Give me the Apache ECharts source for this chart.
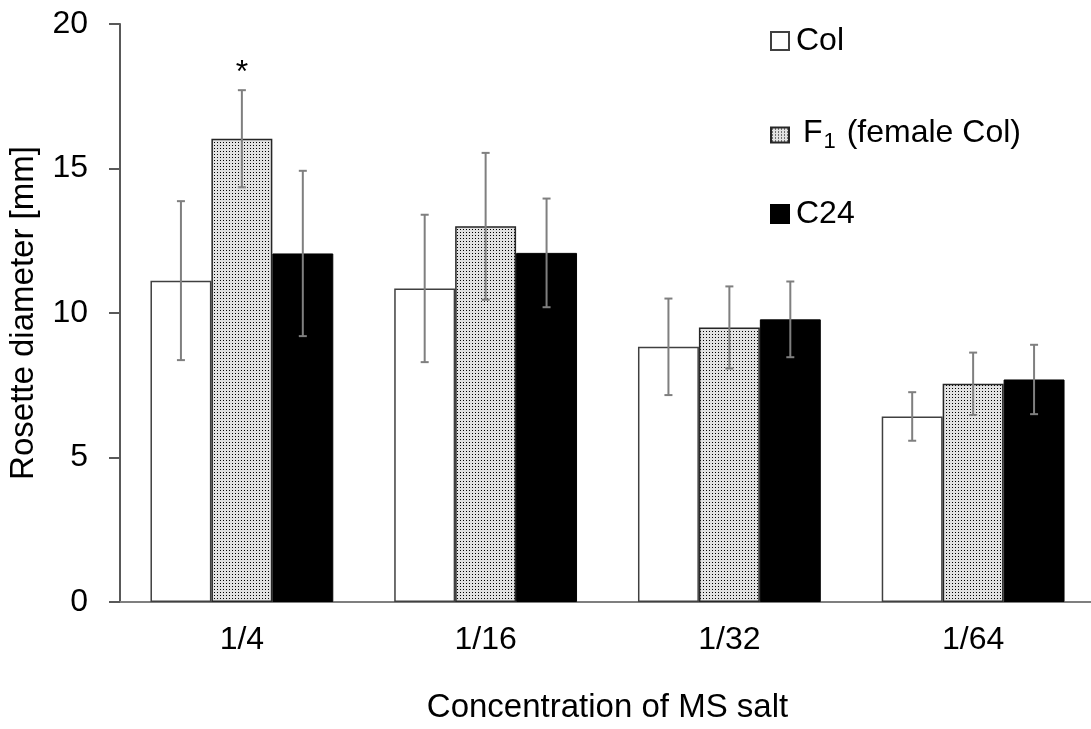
<!DOCTYPE html>
<html>
<head>
<meta charset="utf-8">
<script src="https://cdn.jsdelivr.net/npm/echarts@6/dist/echarts.min.js"></script>
<style>
    html, body { margin: 0; padding: 0; background: #fff; }
    #main { width: 1091px; height: 729px; }
</style>
</head>
<body>
<div id="main"></div>
<script>
var categories = ['1/4', '1/16', '1/32', '1/64'];
var colMean = [11.12, 10.85, 8.83, 6.42];
var colErr = [2.75, 2.55, 1.67, 0.84];
var f1Mean = [16.03, 13.0, 9.50, 7.55];
var f1Err = [1.68, 2.54, 1.42, 1.08];
var c24Mean = [12.06, 12.08, 9.78, 7.70];
var c24Err = [2.86, 1.88, 1.31, 1.20];
var yTicks = [0, 5, 10, 15, 20];
var sigMark = { category: 0, value: 18.3, text: '*' };

var FONT = 'Liberation Sans';
var CAT_GAP = 0.25;

// dotted fill for the F1 bars
function dotPattern() {
    var c = document.createElement('canvas');
    c.width = 3;
    c.height = 3;
    var ctx = c.getContext('2d');
    ctx.fillStyle = '#e2e2e2';
    ctx.fillRect(0, 0, 3, 3);
    ctx.fillStyle = '#000000';
    ctx.fillRect(1, 1, 1, 1);
    return c;
}
var dots = { image: dotPattern(), repeat: 'repeat' };

function errData(mean, err) {
    return mean.map(function (m, i) { return [i, m, err[i]]; });
}

function errRender(k) {
    return function (params, api) {
        var idx = api.value(0);
        var m = api.value(1);
        var e = api.value(2);
        var bw = api.size([1, 0])[0] * (1 - CAT_GAP) / 3;
        var x = api.coord([idx, m])[0] + (k - 1) * bw;
        var hi = api.coord([idx, m + e])[1];
        var lo = api.coord([idx, m - e])[1];
        var st = { stroke: '#7f7f7f', lineWidth: 2 };
        return {
            type: 'group',
            children: [
                { type: 'line', shape: { x1: x, y1: hi, x2: x, y2: lo }, style: st },
                { type: 'line', shape: { x1: x - 4, y1: hi, x2: x + 4, y2: hi }, style: st },
                { type: 'line', shape: { x1: x - 4, y1: lo, x2: x + 4, y2: lo }, style: st }
            ]
        };
    };
}

var myChart = echarts.init(document.getElementById('main'));
var legendText = { fontFamily: FONT, fontSize: 32, color: '#000', padding: [0, 0, 0, 2] };

var option = {
    animation: false,
    textStyle: { fontFamily: FONT },
    grid: { left: 120, width: 975, top: 24, bottom: 127, containLabel: false, outerBoundsMode: 'none' },
    legend: [
        {
            data: ['Col'], icon: 'rect', left: 765, top: 20, itemWidth: 18, itemHeight: 18,
            textStyle: legendText
        },
        {
            data: ['F1'], icon: 'rect', left: 765, top: 106, itemWidth: 18, itemHeight: 15,
            formatter: '{n|F}{s|1}{n| (female Col)}',
            textStyle: {
                fontFamily: FONT, fontSize: 32, color: '#000', padding: [0, 0, 0, 9],
                rich: {
                    n: { fontFamily: FONT, fontSize: 32, color: '#000', lineHeight: 36, verticalAlign: 'top' },
                    s: { fontFamily: FONT, fontSize: 22, color: '#000', lineHeight: 22, verticalAlign: 'bottom', padding: [20, 2, 0, 1] }
                }
            }
        },
        {
            data: ['C24'], icon: 'rect', left: 765, top: 193, itemWidth: 18, itemHeight: 18,
            textStyle: legendText
        }
    ],
    xAxis: {
        type: 'category',
        data: categories,
        axisLine: { show: true, lineStyle: { color: '#7f7f7f', width: 2 } },
        axisTick: { show: false },
        axisLabel: { fontFamily: FONT, fontSize: 32, color: '#000', margin: 22 },
        name: 'Concentration of MS salt',
        nameLocation: 'middle',
        nameGap: 89,
        nameTextStyle: { fontFamily: FONT, fontSize: 33, color: '#000' }
    },
    yAxis: {
        type: 'value',
        min: yTicks[0],
        max: yTicks[yTicks.length - 1],
        interval: yTicks[1] - yTicks[0],
        splitLine: { show: false },
        axisLine: { show: true, lineStyle: { color: '#595959', width: 2 } },
        axisTick: { show: true, length: 11, lineStyle: { color: '#595959', width: 2 } },
        axisLabel: { fontFamily: FONT, fontSize: 32, color: '#000', margin: 32 },
        name: 'Rosette diameter [mm]',
        nameLocation: 'middle',
        nameGap: 80,
        nameTextStyle: { fontFamily: FONT, fontSize: 33, color: '#000' }
    },
    series: [
        {
            name: 'Col', type: 'bar', data: colMean,
            barGap: '0%', barCategoryGap: (CAT_GAP * 100) + '%',
            itemStyle: { color: '#ffffff', borderColor: '#404040', borderWidth: 1.5 }
        },
        {
            name: 'F1', type: 'bar', data: f1Mean,
            itemStyle: { color: dots, borderColor: '#262626', borderWidth: 1.5 },
            markPoint: {
                symbol: 'circle', symbolSize: 0,
                label: { show: true, position: 'inside', formatter: sigMark.text, fontFamily: FONT, fontSize: 32, color: '#000' },
                data: [{ coord: [sigMark.category, sigMark.value] }]
            }
        },
        {
            name: 'C24', type: 'bar', data: c24Mean,
            itemStyle: { color: '#000000', borderColor: '#000000', borderWidth: 1 }
        },
        { type: 'custom', renderItem: errRender(0), data: errData(colMean, colErr), z: 5 },
        { type: 'custom', renderItem: errRender(1), data: errData(f1Mean, f1Err), z: 5 },
        { type: 'custom', renderItem: errRender(2), data: errData(c24Mean, c24Err), z: 5 }
    ]
};
option && myChart.setOption(option);
</script>
</body>
</html>
